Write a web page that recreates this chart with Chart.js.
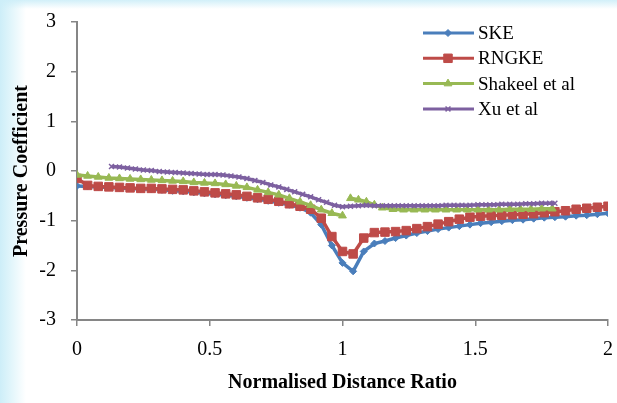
<!DOCTYPE html>
<html>
<head>
<meta charset="utf-8">
<script src="https://cdn.jsdelivr.net/npm/chart.js@4.4.1/dist/chart.umd.min.js"></script>
<style>
  html, body { margin: 0; padding: 0; }
  body {
    width: 617px; height: 403px; overflow: hidden;
    background:
      linear-gradient(to bottom, rgba(205,238,248,0.9) 0px, rgba(255,255,255,0) 9px),
      linear-gradient(to right, #cdeef8 0px, #e3f6fb 12px, #ffffff 26px);
  }
  #wrap { position: relative; width: 617px; height: 403px; }
</style>
</head>
<body>
<div id="wrap"><canvas id="cp" width="617" height="403"></canvas></div>
<script>
// Series names
const seriesNames = ['SKE', 'RNGKE', 'Shakeel et al', 'Xu et al'];

// SKE / RNGKE share the same x stations
const simX = [0.00, 0.04, 0.08, 0.12, 0.16, 0.20, 0.24, 0.28, 0.32, 0.36,
  0.40, 0.44, 0.48, 0.52, 0.56, 0.60, 0.64, 0.68, 0.72, 0.76,
  0.80, 0.84, 0.88, 0.92, 0.96, 1.00, 1.04, 1.08, 1.12, 1.16,
  1.20, 1.24, 1.28, 1.32, 1.36, 1.40, 1.44, 1.48, 1.52, 1.56,
  1.60, 1.64, 1.68, 1.72, 1.76, 1.80, 1.84, 1.88, 1.92, 1.96, 2.00];

const skeY = [-0.30, -0.31, -0.32, -0.33, -0.34, -0.35, -0.36, -0.37, -0.38, -0.40,
  -0.41, -0.43, -0.45, -0.47, -0.49, -0.51, -0.54, -0.57, -0.60, -0.64,
  -0.68, -0.74, -0.84, -1.08, -1.50, -1.85, -2.02, -1.62, -1.46, -1.41,
  -1.35, -1.30, -1.25, -1.21, -1.17, -1.14, -1.11, -1.08, -1.05, -1.03,
  -1.01, -0.99, -0.98, -0.96, -0.94, -0.93, -0.92, -0.90, -0.89, -0.87, -0.85];

const rngY = [-0.15, -0.29, -0.31, -0.32, -0.33, -0.34, -0.35, -0.35, -0.36, -0.37,
  -0.38, -0.40, -0.42, -0.44, -0.46, -0.48, -0.51, -0.54, -0.57, -0.61,
  -0.66, -0.71, -0.77, -0.95, -1.32, -1.62, -1.67, -1.35, -1.24, -1.23,
  -1.22, -1.20, -1.16, -1.12, -1.07, -1.02, -0.97, -0.93, -0.91, -0.90,
  -0.89, -0.88, -0.87, -0.86, -0.84, -0.82, -0.80, -0.77, -0.75, -0.73, -0.71];

// Shakeel et al (null marks the break just after x = 1)
const shakeelX = [0.00, 0.04, 0.08, 0.12, 0.16, 0.20, 0.24, 0.28, 0.32, 0.36,
  0.40, 0.44, 0.48, 0.52, 0.56, 0.60, 0.64, 0.68, 0.72, 0.76,
  0.80, 0.84, 0.88, 0.92, 0.96, 1.00, 1.015, 1.03, 1.06, 1.09,
  1.12, 1.15, 1.19, 1.23, 1.27, 1.31, 1.35, 1.39, 1.43, 1.47,
  1.51, 1.55, 1.59, 1.63, 1.67, 1.71, 1.75, 1.79];
const shakeelY = [-0.08, -0.10, -0.12, -0.14, -0.15, -0.16, -0.17, -0.18, -0.19, -0.20,
  -0.21, -0.23, -0.24, -0.25, -0.27, -0.30, -0.33, -0.38, -0.43, -0.48,
  -0.55, -0.62, -0.69, -0.78, -0.85, -0.90, null, -0.55, -0.58, -0.62,
  -0.68, -0.74, -0.77, -0.78, -0.78, -0.78, -0.78, -0.78, -0.78, -0.78,
  -0.78, -0.78, -0.78, -0.77, -0.77, -0.77, -0.76, -0.76];

// Xu et al
const xuX = [0.13, 0.16, 0.19, 0.22, 0.25, 0.28, 0.31, 0.34, 0.37, 0.40,
  0.43, 0.46, 0.49, 0.52, 0.55, 0.58, 0.61, 0.64, 0.67, 0.70,
  0.73, 0.76, 0.79, 0.82, 0.85, 0.88, 0.91, 0.94, 0.97, 1.00,
  1.03, 1.06, 1.09, 1.12, 1.15, 1.18, 1.21, 1.24, 1.27, 1.30,
  1.33, 1.36, 1.39, 1.42, 1.45, 1.48, 1.51, 1.54, 1.57, 1.60,
  1.63, 1.66, 1.69, 1.72, 1.75, 1.78, 1.80];
const xuY = [0.09, 0.08, 0.06, 0.04, 0.02, 0.01, -0.01, -0.02, -0.03, -0.04,
  -0.05, -0.06, -0.07, -0.07, -0.08, -0.10, -0.12, -0.15, -0.19, -0.23,
  -0.28, -0.32, -0.37, -0.42, -0.47, -0.52, -0.58, -0.63, -0.69, -0.72,
  -0.71, -0.70, -0.69, -0.70, -0.70, -0.70, -0.70, -0.70, -0.70, -0.70,
  -0.70, -0.70, -0.69, -0.69, -0.69, -0.69, -0.68, -0.68, -0.68, -0.67,
  -0.67, -0.67, -0.66, -0.66, -0.65, -0.65, -0.65];

// Axis ticks
const xTicks = [0, 0.5, 1, 1.5, 2];
const xTickLabels = ['0', '0.5', '1', '1.5', '2'];
const yTicks = [-3, -2, -1, 0, 1, 2, 3];

const colors = ['#4A7EBB', '#BE4B48', '#98B954', '#7D60A0'];
const serif = '"Liberation Serif", "Times New Roman", serif';
const axisGray = '#868686';

function pairs(xs, ys) {
  return xs.map((x, i) => ({ x: x, y: ys[i] }));
}

// Legend drawn in the Excel way: line with marker, label to the right
const sideLegend = {
  id: 'sideLegend',
  afterDraw(chart) {
    const ctx = chart.ctx;
    const drawPoint = Chart.helpers && Chart.helpers.drawPoint;
    ctx.save();
    chart.data.datasets.forEach((ds, i) => {
      const y = 33 + i * 25.3;
      ctx.strokeStyle = ds.borderColor;
      ctx.lineWidth = 3;
      ctx.beginPath();
      ctx.moveTo(423, y);
      ctx.lineTo(474, y);
      ctx.stroke();
      if (drawPoint) {
        ctx.fillStyle = ds.pointBackgroundColor;
        ctx.strokeStyle = ds.pointBorderColor;
        ctx.lineWidth = ds.pointBorderWidth;
        drawPoint(ctx, { pointStyle: ds.pointStyle, radius: ds.pointRadius, rotation: 0, borderWidth: ds.pointBorderWidth }, 448, y);
      }
      ctx.fillStyle = '#000';
      ctx.font = '19px ' + serif;
      ctx.textAlign = 'left';
      ctx.textBaseline = 'middle';
      ctx.fillText(ds.label, 478, y + 1);
    });
    ctx.restore();
  }
};

const ctx = document.getElementById('cp').getContext('2d');
new Chart(ctx, {
  type: 'line',
  data: {
    datasets: [
      {
        label: seriesNames[0], data: pairs(simX, skeY), order: 4,
        borderColor: colors[0], borderWidth: 3.5,
        pointStyle: 'rectRot', pointRadius: 3.5,
        pointBackgroundColor: colors[0], pointBorderColor: colors[0], pointBorderWidth: 1
      },
      {
        label: seriesNames[1], data: pairs(simX, rngY), order: 3,
        borderColor: colors[1], borderWidth: 3.5,
        pointStyle: 'rect', pointRadius: 6,
        pointBackgroundColor: colors[1], pointBorderColor: colors[1], pointBorderWidth: 1
      },
      {
        label: seriesNames[2], data: pairs(shakeelX, shakeelY), order: 2,
        borderColor: colors[2], borderWidth: 3.5, spanGaps: false,
        pointStyle: 'triangle', pointRadius: 4.5,
        pointBackgroundColor: colors[2], pointBorderColor: colors[2], pointBorderWidth: 1
      },
      {
        label: seriesNames[3], data: pairs(xuX, xuY), order: 1,
        borderColor: colors[3], borderWidth: 3.5,
        pointStyle: 'crossRot', pointRadius: 3.5,
        pointBackgroundColor: colors[3], pointBorderColor: colors[3], pointBorderWidth: 1.5
      }
    ]
  },
  options: {
    responsive: false,
    animation: false,
    devicePixelRatio: 1,
    layout: { padding: { left: 0, right: 9, top: 22, bottom: 0 } },
    plugins: {
      legend: { display: false },
      tooltip: { enabled: false }
    },
    elements: { line: { tension: 0 } },
    scales: {
      x: {
        type: 'linear', min: 0, max: 2,
        afterFit: s => { s.height = 83; s.paddingLeft = 0; s.paddingRight = 0; },
        afterBuildTicks: s => { s.ticks = xTicks.map(v => ({ value: v })); },
        border: { display: true, color: axisGray, width: 2 },
        grid: { drawOnChartArea: false, drawTicks: true, tickLength: 6, color: axisGray, lineWidth: 1.5 },
        ticks: {
          color: '#000', font: { family: serif, size: 20 }, padding: 12, maxRotation: 0,
          callback: (v, i) => xTickLabels[i]
        },
        title: {
          display: true, text: 'Normalised Distance Ratio', color: '#000',
          font: { family: serif, size: 20, weight: 'bold' }, padding: { top: 0, bottom: 8 }
        }
      },
      y: {
        type: 'linear', min: -3, max: 3,
        afterFit: s => { s.width = 77; s.paddingTop = 0; s.paddingBottom = 0; },
        afterBuildTicks: s => { s.ticks = yTicks.map(v => ({ value: v })); },
        border: { display: true, color: axisGray, width: 2 },
        grid: { drawOnChartArea: false, drawTicks: true, tickLength: 6, color: axisGray, lineWidth: 1.5 },
        ticks: { color: '#000', font: { family: serif, size: 20 }, padding: 15 },
        title: {
          display: true, text: 'Pressure Coefficient', color: '#000',
          font: { family: serif, size: 20, weight: 'bold' }, padding: { top: 10, bottom: 0 }
        }
      }
    }
  },
  plugins: [sideLegend]
});
</script>
</body>
</html>
